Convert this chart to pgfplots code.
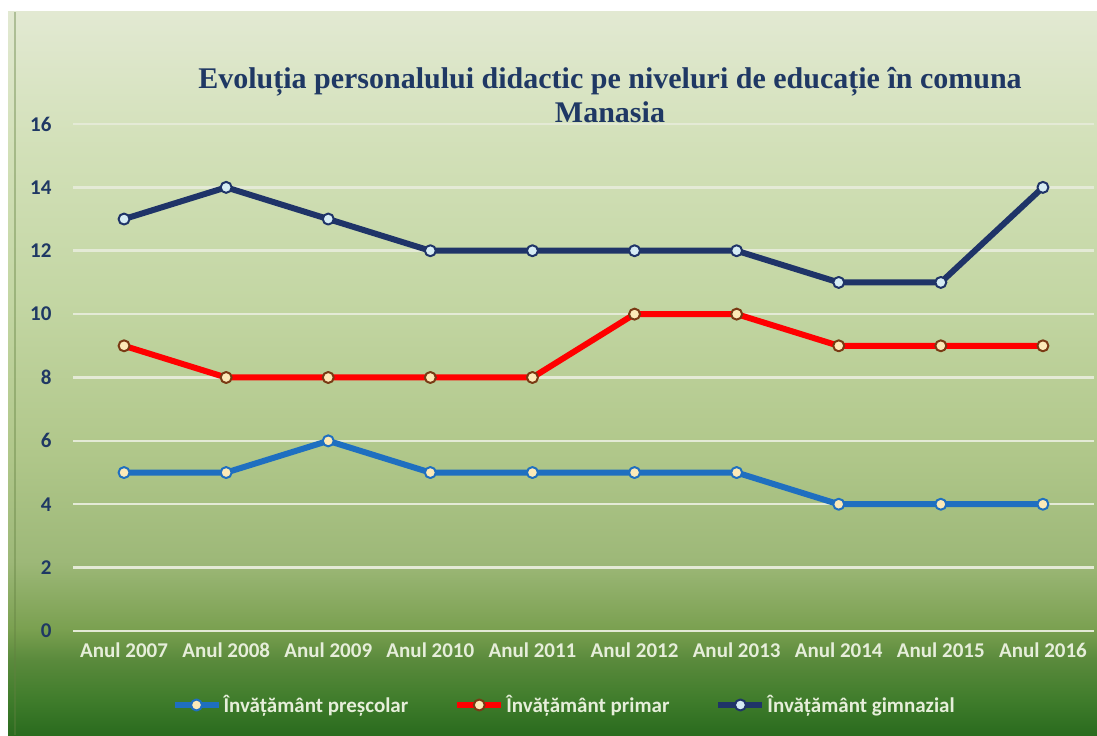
\documentclass[border=0pt]{standalone}
\usepackage{fontspec}
\setmainfont{Carlito}
\newfontfamily\titlefont{Liberation Serif}
\usepackage{pgfplots}
\pgfplotsset{compat=1.18}

\definecolor{bg0}{HTML}{2A6B1E}
\definecolor{bg1}{HTML}{3F7C2B}
\definecolor{bg2}{HTML}{5A8A3C}
\definecolor{bg3}{HTML}{7AA050}
\definecolor{bg4}{HTML}{9DB878}
\definecolor{bg5}{HTML}{B0C78A}
\definecolor{bg6}{HTML}{C3D6A3}
\definecolor{bg7}{HTML}{D2E0B8}
\definecolor{bg8}{HTML}{E2E9D2}
\definecolor{titleblue}{HTML}{1F3864}
\definecolor{gridc}{HTML}{E4EAD6}
\definecolor{lblc}{HTML}{E6EEDA}
\definecolor{cpre}{HTML}{1F6FC0}
\definecolor{cpri}{HTML}{FF0000}
\definecolor{cgim}{HTML}{1F3468}
\definecolor{mkyel}{HTML}{FCE9B8}
\definecolor{mkblue}{HTML}{D6ECF4}
\definecolor{mkbrown}{HTML}{7A3A14}

\pgfdeclareverticalshading{bggreen}{100bp}{%
  color(0bp)=(bg0); color(25bp)=(bg0); color(27.4bp)=(bg1);
  color(30.2bp)=(bg2); color(32.3bp)=(bg3); color(37bp)=(bg4);
  color(44.5bp)=(bg5); color(55bp)=(bg6); color(65.5bp)=(bg7);
  color(75bp)=(bg8); color(100bp)=(bg8)}

\begin{document}
\begin{tikzpicture}
\fill[white] (0pt,0pt) rectangle (1097pt,735pt);
\shade[shading=bggreen] (8pt,0pt) rectangle (1097pt,723pt);
\draw[bg3!80!black, opacity=0.4, line width=1.5pt] (15pt,0pt) -- (15pt,723pt);

\node[font=\titlefont\fontsize{30}{34}\selectfont\bfseries, text=titleblue,
  align=center] at (610pt,640pt)
  {Evoluția personalului didactic pe niveluri de educație în comuna\\Manasia};

\begin{axis}[
  at={(73pt,104pt)}, anchor=south west,
  scale only axis,
  width=1021pt, height=507pt,
  xmin=-0.5, xmax=9.5,
  ymin=0, ymax=16,
  ytick={0,2,...,16},
  xtick={0,...,9},
  xticklabels={Anul 2007,Anul 2008,Anul 2009,Anul 2010,Anul 2011,Anul 2012,Anul 2013,Anul 2014,Anul 2015,Anul 2016},
  /pgf/number format/assume math mode=true,
  axis line style={draw=none},
  major tick length=0pt,
  ymajorgrids,
  major grid style={gridc, line width=2.5pt},
  yticklabel style={font=\fontsize{21}{24}\selectfont\bfseries, text=titleblue, xshift=-18pt},
  xticklabel style={font=\fontsize{21}{24}\selectfont\bfseries, text=lblc, yshift=-8pt},
  clip=false,
  legend columns=3,
  legend style={at={(axis description cs:0.481,0)}, anchor=center, yshift=-74pt,
    draw=none, fill=none, text=lblc, font=\fontsize{21}{24}\selectfont\bfseries,
    /tikz/every even column/.append style={column sep=44pt}},
  legend image code/.code={\draw[mark repeat=2,mark phase=2,#1]
    plot coordinates {(0pt,0pt) (22pt,0pt) (44pt,0pt)};},
  every axis plot/.append style={line width=6pt, line join=round},
]
\addplot[cpre, mark=*, mark size=5.5pt,
  mark options={fill=mkyel, draw=cpre, line width=2pt}]
  coordinates {(0,5) (1,5) (2,6) (3,5) (4,5) (5,5) (6,5) (7,4) (8,4) (9,4)};
\addlegendentry{Învățământ preșcolar}
\addplot[cpri, mark=*, mark size=5.5pt,
  mark options={fill=mkyel, draw=mkbrown, line width=2pt}]
  coordinates {(0,9) (1,8) (2,8) (3,8) (4,8) (5,10) (6,10) (7,9) (8,9) (9,9)};
\addlegendentry{Învățământ primar}
\addplot[cgim, mark=*, mark size=5.5pt,
  mark options={fill=mkblue, draw=cgim, line width=2pt}]
  coordinates {(0,13) (1,14) (2,13) (3,12) (4,12) (5,12) (6,12) (7,11) (8,11) (9,14)};
\addlegendentry{Învățământ gimnazial}
\end{axis}
\end{tikzpicture}
\end{document}
